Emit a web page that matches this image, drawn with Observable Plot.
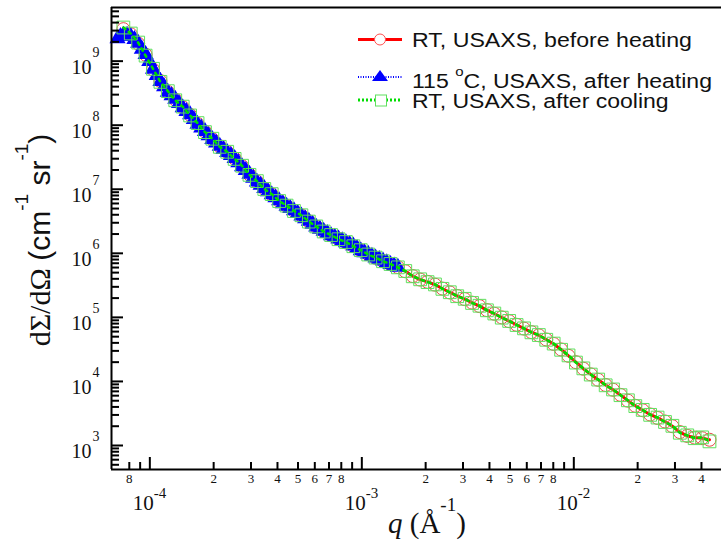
<!DOCTYPE html>
<html><head><meta charset="utf-8">
<script src="https://cdn.jsdelivr.net/npm/d3@7"></script>
<script src="https://cdn.jsdelivr.net/npm/@observablehq/plot@0.6"></script>
<style>body{margin:0;background:#fff}#chart{width:721px;height:549px}</style>
</head><body><div id="chart"></div>
<script>
// q (1/Å) sampling shared by the two RT scans
const qRT = [7.50e-5,8.13e-5,8.81e-5,9.55e-5,1.035e-4,1.122e-4,1.216e-4,1.318e-4,1.429e-4,1.549e-4,
1.679e-4,1.820e-4,1.972e-4,2.138e-4,2.317e-4,2.512e-4,2.723e-4,2.951e-4,3.199e-4,3.467e-4,
3.758e-4,4.074e-4,4.416e-4,4.786e-4,5.188e-4,5.623e-4,6.095e-4,6.607e-4,7.161e-4,7.762e-4,
8.414e-4,9.120e-4,9.886e-4,1.072e-3,1.161e-3,1.259e-3,1.365e-3,1.479e-3,1.603e-3,1.738e-3,
1.884e-3,2.042e-3,2.213e-3,2.399e-3,2.600e-3,2.818e-3,3.055e-3,3.311e-3,3.589e-3,3.890e-3,
4.217e-3,4.571e-3,4.955e-3,5.370e-3,5.821e-3,6.310e-3,6.839e-3,7.413e-3,8.035e-3,8.710e-3,
9.441e-3,1.023e-2,1.109e-2,1.202e-2,1.303e-2,1.413e-2,1.531e-2,1.660e-2,1.799e-2,1.950e-2,
2.113e-2,2.291e-2,2.483e-2,2.692e-2,2.917e-2,3.162e-2,3.428e-2,3.715e-2,4.027e-2,4.365e-2];
// RT, USAXS, before heating
const iBefore = [3.16e9,2.63e9,1.88e9,1.26e9,7.41e8,4.90e8,3.31e8,2.51e8,1.91e8,1.45e8,
1.05e8,7.94e7,6.03e7,4.68e7,3.80e7,3.02e7,2.29e7,1.70e7,1.32e7,1.02e7,
8.32e6,6.61e6,5.50e6,4.62e6,3.89e6,3.16e6,2.60e6,2.21e6,1.91e6,1.68e6,
1.48e6,1.30e6,1.11e6,9.66e5,8.51e5,7.59e5,6.76e5,6.10e5,5.25e5,4.42e5,
3.89e5,3.59e5,3.24e5,2.82e5,2.45e5,2.16e5,1.93e5,1.70e5,1.50e5,1.30e5,
1.14e5,1.00e5,8.71e4,7.67e4,6.68e4,5.89e4,5.25e4,4.52e4,3.85e4,3.16e4,
2.51e4,2.00e4,1.58e4,1.29e4,1.06e4,8.81e3,7.41e3,6.17e3,5.01e3,4.17e3,
3.55e3,3.05e3,2.69e3,2.37e3,2.00e3,1.62e3,1.41e3,1.33e3,1.30e3,1.23e3];
// RT, USAXS, after cooling
const iCooling = [3.35e9,2.70e9,1.95e9,1.22e9,7.60e8,4.75e8,3.40e8,2.45e8,1.95e8,1.42e8,
1.08e8,7.80e7,6.15e7,4.60e7,3.85e7,2.98e7,2.33e7,1.68e7,1.34e7,1.01e7,
8.40e6,6.55e6,5.56e6,4.58e6,3.93e6,3.13e6,2.63e6,2.19e6,1.93e6,1.66e6,
1.50e6,1.29e6,1.12e6,9.58e5,8.58e5,7.52e5,6.82e5,6.04e5,5.30e5,4.38e5,
3.93e5,3.55e5,3.27e5,2.79e5,2.47e5,2.14e5,1.95e5,1.68e5,1.52e5,1.29e5,
1.15e5,9.90e4,8.80e4,7.60e4,6.74e4,5.84e4,5.30e4,4.47e4,3.90e4,3.12e4,
2.55e4,1.97e4,1.60e4,1.28e4,1.07e4,8.70e3,7.50e3,6.10e3,5.08e3,4.12e3,
3.60e3,3.01e3,2.73e3,2.33e3,2.03e3,1.58e3,1.44e3,1.30e3,1.34e3,1.16e3];
// 115 °C, USAXS, after heating (denser USAXS sampling)
const q115 = [7.04e-5,7.27e-5,7.50e-5,7.81e-5,8.13e-5,8.46e-5,8.81e-5,9.17e-5,9.55e-5,9.94e-5,
1.035e-4,1.078e-4,1.122e-4,1.168e-4,1.216e-4,1.266e-4,1.318e-4,1.372e-4,1.429e-4,1.488e-4,
1.549e-4,1.613e-4,1.679e-4,1.748e-4,1.820e-4,1.894e-4,1.972e-4,2.053e-4,2.138e-4,2.226e-4,
2.317e-4,2.413e-4,2.512e-4,2.615e-4,2.723e-4,2.835e-4,2.951e-4,3.073e-4,3.199e-4,3.331e-4,
3.467e-4,3.610e-4,3.758e-4,3.913e-4,4.074e-4,4.242e-4,4.416e-4,4.597e-4,4.786e-4,4.983e-4,
5.188e-4,5.401e-4,5.623e-4,5.855e-4,6.095e-4,6.346e-4,6.607e-4,6.879e-4,7.161e-4,7.456e-4,
7.762e-4,8.082e-4,8.414e-4,8.760e-4,9.120e-4,9.495e-4,9.886e-4,1.029e-3,1.072e-3,1.116e-3,
1.161e-3,1.209e-3,1.259e-3,1.311e-3,1.365e-3,1.421e-3,1.479e-3];
const i115 = [2.25e9,2.45e9,2.55e9,2.55e9,2.45e9,2.20e9,1.92e9,1.55e9,1.28e9,9.90e8,
7.50e8,6.00e8,4.85e8,4.00e8,3.28e8,2.90e8,2.55e8,2.20e8,1.88e8,1.65e8,
1.46e8,1.24e8,1.04e8,9.10e7,8.00e7,6.90e7,6.00e7,5.30e7,4.72e7,4.20e7,
3.76e7,3.40e7,3.05e7,2.62e7,2.27e7,1.98e7,1.72e7,1.50e7,1.31e7,1.16e7,
1.03e7,9.20e6,8.28e6,7.40e6,6.65e6,6.00e6,5.47e6,5.05e6,4.65e6,4.22e6,
3.86e6,3.50e6,3.18e6,2.87e6,2.58e6,2.40e6,2.22e6,2.05e6,1.90e6,1.79e6,
1.69e6,1.58e6,1.47e6,1.38e6,1.31e6,1.20e6,1.10e6,1.03e6,9.70e5,9.05e5,
8.47e5,8.05e5,7.62e5,7.15e5,6.73e5,6.40e5,6.12e5];

const legendLabels = ["RT, USAXS, before heating", "115 ", "C, USAXS, after heating", "RT, USAXS, after cooling"];

// axis ticks
const xMajor = [1e-4, 1e-3, 1e-2];
const xMajorExp = ["-4", "-3", "-2"];
const xMinor = [8e-5,9e-5,2e-4,3e-4,4e-4,5e-4,6e-4,7e-4,8e-4,9e-4,2e-3,3e-3,4e-3,5e-3,6e-3,7e-3,8e-3,9e-3,2e-2,3e-2,4e-2];
const xMinorLabelVals = [8e-5,2e-4,3e-4,4e-4,5e-4,6e-4,7e-4,8e-4,2e-3,3e-3,4e-3,5e-3,6e-3,7e-3,8e-3,2e-2,3e-2,4e-2];
const xMinorLabels = ["8","2","3","4","5","6","7","8","2","3","4","5","6","7","8","2","3","4"];
const yMajor = [1e3,1e4,1e5,1e6,1e7,1e8,1e9];
const yMajorExp = ["3","4","5","6","7","8","9"];
const yMinor = [500,600,700,800,900,
 2e3,3e3,4e3,5e3,6e3,7e3,8e3,9e3, 2e4,3e4,4e4,5e4,6e4,7e4,8e4,9e4,
 2e5,3e5,4e5,5e5,6e5,7e5,8e5,9e5, 2e6,3e6,4e6,5e6,6e6,7e6,8e6,9e6,
 2e7,3e7,4e7,5e7,6e7,7e7,8e7,9e7, 2e8,3e8,4e8,5e8,6e8,7e8,8e8,9e8,
 2e9,3e9,4e9,5e9,6e9];

const xDomain = [6.594e-5, 0.04973];
const yDomain = [422, 6.88e9];

const before = qRT.map((q, i) => ({q, I: iBefore[i]}));
const cooling = qRT.map((q, i) => ({q, I: iCooling[i]}));
const heated = q115.map((q, i) => ({q, I: i115[i]}));

const W = 721, H = 549, ML = 111, MT = 7, MB = 80, MR = 0;
const PW = W - ML - MR, PH = H - MT - MB;
const serif = "Liberation Serif, Times New Roman, serif";
const sans = "Liberation Sans, Arial, sans-serif";

const svg = Plot.plot({
  width: W, height: H,
  marginLeft: ML, marginTop: MT, marginBottom: MB, marginRight: MR,
  x: {type: "log", domain: xDomain, axis: null},
  y: {type: "log", domain: yDomain, axis: null},
  style: {background: "#fff", overflow: "visible"},
  marks: [
    Plot.line(before, {x: "q", y: "I", stroke: "#ff0000", strokeWidth: 3}),
    Plot.dot(before, {x: "q", y: "I", r: 6.5, stroke: "#e84848", strokeWidth: 1, fill: "none"}),
    Plot.line(heated, {x: "q", y: "I", stroke: "#0000ff", strokeWidth: 2, strokeDasharray: "1,2"}),
    Plot.dot(heated, {x: "q", y: "I", symbol: "triangle", r: 6, fill: "#0000ff", stroke: "none"}),
    Plot.dot(cooling, {x: "q", y: "I", symbol: "square", r: 7.2, stroke: "#5ee05e", strokeWidth: 1, fill: "none"}),
    Plot.line(cooling, {x: "q", y: "I", stroke: "#00dd00", strokeWidth: 2.6, strokeDasharray: "2.5,4.5"}),
    // frame
    Plot.ruleX([xDomain[0]], {stroke: "#000", strokeWidth: 2}),
    Plot.ruleY([yDomain[0]], {stroke: "#000", strokeWidth: 2}),
    Plot.ruleY([yDomain[1]], {stroke: "#000", strokeWidth: 2}),
    // inward ticks
    Plot.tickX(xMajor, {x: d => d, insetTop: PH - 12, stroke: "#000", strokeWidth: 2}),
    Plot.tickX(xMinor, {x: d => d, insetTop: PH - 7, stroke: "#000", strokeWidth: 2}),
    Plot.tickY(yMajor, {y: d => d, insetRight: PW - 12, stroke: "#000", strokeWidth: 2}),
    Plot.tickY(yMinor, {y: d => d, insetRight: PW - 8, stroke: "#000", strokeWidth: 2}),
    // tick labels
    Plot.text(xMinorLabelVals, {x: d => d, text: (d, i) => xMinorLabels[i], frameAnchor: "bottom", dy: 13, fontSize: 13, fontFamily: serif, fill: "#111"}),
    Plot.text(xMajor, {x: d => d, text: () => "10", frameAnchor: "bottom", dy: 40, dx: 4, textAnchor: "end", fontSize: 21, fontFamily: serif, fill: "#111"}),
    Plot.text(xMajor, {x: d => d, text: (d, i) => xMajorExp[i], frameAnchor: "bottom", dy: 28, dx: 4, textAnchor: "start", fontSize: 15, fontFamily: serif, fill: "#111"}),
    Plot.text(yMajor, {y: d => d, text: () => "10", frameAnchor: "left", dx: -20, dy: 6, textAnchor: "end", fontSize: 20, fontFamily: serif, fill: "#111"}),
    Plot.text(yMajor, {y: d => d, text: (d, i) => yMajorExp[i], frameAnchor: "left", dx: -19, dy: -9, textAnchor: "start", fontSize: 14, fontFamily: serif, fill: "#111"})
  ]
});
document.getElementById("chart").appendChild(svg);

const s = d3.select(svg);
// y axis title
const yt = s.append("text")
  .attr("transform", "translate(50,240) rotate(-90)")
  .attr("text-anchor", "middle")
  .attr("font-size", 30).attr("fill", "#111");
yt.append("tspan").attr("font-family", serif).text("dΣ/dΩ ");
yt.append("tspan").attr("font-family", sans).text("(cm");
yt.append("tspan").attr("font-family", sans).attr("font-size", 19).attr("dy", -22).text("-1");
yt.append("tspan").attr("font-family", sans).attr("dy", 22).text(" sr");
yt.append("tspan").attr("font-family", sans).attr("font-size", 19).attr("dy", -22).text("-1");
yt.append("tspan").attr("font-family", sans).attr("dy", 22).text(")");

// x axis title
const xt = s.append("text")
  .attr("x", 388).attr("y", 533).attr("text-anchor", "start")
  .attr("font-size", 29).attr("font-family", serif).attr("fill", "#111");
xt.append("tspan").attr("font-style", "italic").text("q");
xt.append("tspan").text(" (Å");
xt.append("tspan").attr("font-size", 19).attr("dy", -22).text("-1");
xt.append("tspan").attr("dy", 22).text(")");

// legend
const lg = s.append("g").attr("text-anchor", "start");
const rows = [
  {y: 39.5, color: "#ff0000", dash: null, w: 3},
  {y: 77, color: "#0000ff", dash: "1,1.5", w: 2},
  {y: 100, color: "#00dd00", dash: "2,2", w: 3}
];
rows.forEach(r => {
  lg.append("line").attr("x1", 358).attr("x2", 402).attr("y1", r.y).attr("y2", r.y)
    .attr("stroke", r.color).attr("stroke-width", r.w).attr("stroke-dasharray", r.dash);
});
lg.append("circle").attr("cx", 380).attr("cy", 39.5).attr("r", 5.5).attr("fill", "#fff").attr("stroke", "#ff5050").attr("stroke-width", 1);
lg.append("path").attr("d", "M372,81L388,81L380,70Z").attr("fill", "#0000ff");
lg.append("rect").attr("x", 375.5).attr("y", 95).attr("width", 11).attr("height", 11).attr("fill", "#fff").attr("stroke", "#5ee05e").attr("stroke-width", 1);

lg.append("text").attr("x", 412).attr("y", 47).attr("text-anchor", "start").attr("font-family", sans).attr("font-size", 20).attr("fill", "#111")
  .attr("textLength", 280).attr("lengthAdjust", "spacingAndGlyphs").text(legendLabels[0]);
const t2 = lg.append("text").attr("x", 412).attr("y", 88).attr("text-anchor", "start").attr("font-family", sans).attr("font-size", 20).attr("fill", "#111")
  .attr("textLength", 300).attr("lengthAdjust", "spacingAndGlyphs");
t2.append("tspan").text(legendLabels[1]);
t2.append("tspan").attr("font-size", 13).attr("dy", -12).text("o");
t2.append("tspan").attr("dy", 12).text(legendLabels[2]);
lg.append("text").attr("x", 412).attr("y", 107.5).attr("text-anchor", "start").attr("font-family", sans).attr("font-size", 20).attr("fill", "#111")
  .attr("textLength", 256.6).attr("lengthAdjust", "spacingAndGlyphs").text(legendLabels[3]);
</script>
</body></html>
